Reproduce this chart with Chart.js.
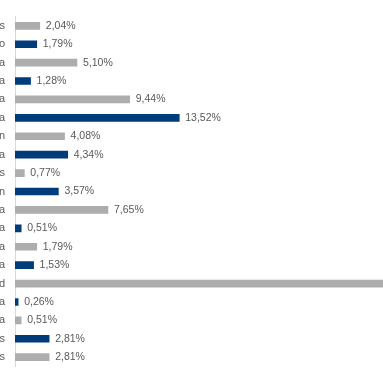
<!DOCTYPE html>
<html>
<head>
<meta charset="utf-8">
<script src="https://cdn.jsdelivr.net/npm/chart.js@4"></script>
<style>
  html, body { margin: 0; padding: 0; background: #fff; overflow: hidden; }
  #wrap { width: 383px; height: 383px; overflow: hidden; }
</style>
</head>
<body>
<div id="wrap">
  <canvas id="myChart" width="501" height="383"></canvas>
</div>
<script>
// etiquetas (recortadas en la imagen original, solo se ve la ultima letra)
const categorias = ["s", "o", "a", "a", "a", "a", "n", "a", "s", "n", "a", "a", "a", "a", "d", "a", "a", "s", "s"];
// porcentajes
const valores = [2.04, 1.79, 5.10, 1.28, 9.44, 13.52, 4.08, 4.34, 0.77, 3.57, 7.65, 0.51, 1.79, 1.53, 36.20, 0.26, 0.51, 2.81, 2.81];

const gris = "#adadad";
const azul = "#003b7b";
const ctx = document.getElementById("myChart");

// formatea 2.04 -> "2,04%"
const formatearValor = (v) => v.toFixed(2).replace(".", ",") + "%";

const etiquetasValor = {
  id: "etiquetasValor",
  afterDatasetsDraw(chart) {
    const c = chart.ctx;
    const meta = chart.getDatasetMeta(0);
    c.save();
    c.font = "10.5px 'Liberation Sans'";
    c.fillStyle = "#595959";
    c.textBaseline = "middle";
    meta.data.forEach((bar, i) => {
      c.fillText(formatearValor(valores[i]), bar.x + 6, bar.y);
    });
    c.restore();
  },
};

const myChart = new Chart(ctx, {
  type: "bar",
  data: {
    labels: categorias,
    datasets: [
      {
        data: valores,
        backgroundColor: (c) => (c.dataIndex % 2 ? azul : gris),
        barThickness: 7,
      },
    ],
  },
  options: {
    indexAxis: "y",
    responsive: false,
    devicePixelRatio: 1,
    animation: false,
    layout: { padding: { top: 14, bottom: 16, left: 0, right: 0 } },
    plugins: { legend: { display: false }, tooltip: { enabled: false } },
    scales: {
      x: { display: false, min: 0, max: 40 },
      y: {
        grid: { display: false, drawTicks: false },
        border: { display: true, color: "#d9d9d9", width: 1 },
        ticks: {
          padding: 10,
          color: "#595959",
          font: { family: "'Liberation Sans'", size: 11 },
        },
        afterFit: (scale) => {
          scale.width = 15;
        },
      },
    },
  },
  plugins: [etiquetasValor],
});
</script>
</body>
</html>
